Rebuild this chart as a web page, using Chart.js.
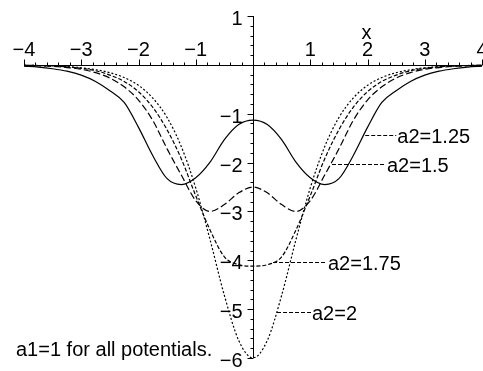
<!DOCTYPE html>
<html>
<head>
<meta charset="utf-8">
<script src="https://cdn.jsdelivr.net/npm/chart.js@4/dist/chart.umd.min.js"></script>
<style>
  html, body { margin: 0; padding: 0; background: #fff; }
  canvas { display: block; }
</style>
</head>
<body>
<canvas id="chart" width="483" height="371"></canvas>
<script>
// Sample positions along x
const xs = [-4, -3.75, -3.5, -3.25, -3, -2.75, -2.5, -2.25, -2, -1.75, -1.5, -1.25, -1, -0.75, -0.5, -0.25,
            0, 0.25, 0.5, 0.75, 1, 1.25, 1.5, 1.75, 2, 2.25, 2.5, 2.75, 3, 3.25, 3.5, 3.75, 4];

// Potential values for each a2
const v125 = [-0.025, -0.045, -0.08, -0.13, -0.21, -0.34, -0.53, -0.77, -1.28, -1.86, -2.33, -2.45, -2.31, -1.99, -1.53, -1.22,
              -1.13, -1.22, -1.53, -1.99, -2.31, -2.45, -2.33, -1.86, -1.28, -0.77, -0.53, -0.34, -0.21, -0.13, -0.08, -0.045, -0.025];
const v150 = [-0.01, -0.018, -0.03, -0.055, -0.09, -0.16, -0.27, -0.45, -0.72, -1.14, -1.72, -2.26, -2.78, -3.00, -2.86, -2.62,
              -2.50, -2.62, -2.86, -3.00, -2.78, -2.26, -1.72, -1.14, -0.72, -0.45, -0.27, -0.16, -0.09, -0.055, -0.03, -0.018, -0.01];
const v175 = [-0.008, -0.014, -0.024, -0.04, -0.07, -0.12, -0.21, -0.34, -0.55, -0.87, -1.33, -1.93, -2.68, -3.38, -3.93, -4.09,
              -4.12, -4.09, -3.93, -3.38, -2.68, -1.93, -1.33, -0.87, -0.55, -0.34, -0.21, -0.12, -0.07, -0.04, -0.024, -0.014, -0.008];
const v200 = [-0.008, -0.013, -0.022, -0.036, -0.06, -0.10, -0.16, -0.26, -0.42, -0.68, -1.08, -1.68, -2.52, -3.58, -4.72, -5.64,
              -6.00, -5.64, -4.72, -3.58, -2.52, -1.68, -1.08, -0.68, -0.42, -0.26, -0.16, -0.10, -0.06, -0.036, -0.022, -0.013, -0.008];

const seriesNames = ['a2=1.25', 'a2=1.5', 'a2=1.75', 'a2=2'];
const seriesValues = [v125, v150, v175, v200];
const seriesDash = [[], [7, 3], [4, 2], [2, 2]];

// Tick labels on the crossing axes
const xTickLabels = [-4, -3, -2, -1, 1, 2, 3, 4];
const yTickLabels = [1, -1, -2, -3, -4, -5, -6];
const minorStep = 0.2;
const xTitle = 'x';
const noteText = 'a1=1 for all potentials.';

// Callouts: point on the curve, and x where the text begins (data units)
const callouts = [
  { text: seriesNames[0], x: 1.96, y: -1.43, tx: 2.52 },
  { text: seriesNames[1], x: 1.38, y: -2.02, tx: 2.34 },
  { text: seriesNames[2], x: 0.35, y: -4.04, tx: 1.31 },
  { text: seriesNames[3], x: 0.42, y: -5.05, tx: 1.03 }
];

const FONT = '20px "Liberation Sans", Arial, Helvetica, sans-serif';
const fmt = v => (v < 0 ? '\u2212' + Math.abs(v) : String(v));

const crossAxes = {
  id: 'crossAxes',
  afterDatasetsDraw(chart) {
    const ctx = chart.ctx;
    const sx = chart.scales.x, sy = chart.scales.y;
    const X = v => sx.getPixelForValue(v);
    const Y = v => sy.getPixelForValue(v);
    const x0 = Math.round(X(0)) + 0.5;
    const y0 = Math.round(Y(0)) + 0.5;

    ctx.save();
    ctx.strokeStyle = '#000';
    ctx.fillStyle = '#000';
    ctx.lineWidth = 1;
    ctx.setLineDash([]);
    ctx.beginPath();
    ctx.moveTo(X(sx.min), y0); ctx.lineTo(X(sx.max), y0);
    ctx.moveTo(x0, Y(sy.max)); ctx.lineTo(x0, Y(sy.min));
    const nx = Math.round((sx.max - sx.min) / minorStep);
    for (let i = 0; i <= nx; i++) {
      const v = sx.min + i * minorStep;
      const px = Math.round(X(v)) + 0.5;
      const len = i % 5 === 0 ? 6 : 3;
      ctx.moveTo(px, y0); ctx.lineTo(px, y0 - len);
    }
    const ny = Math.round((sy.max - sy.min) / minorStep);
    for (let i = 0; i <= ny; i++) {
      const v = sy.min + i * minorStep;
      const py = Math.round(Y(v)) + 0.5;
      const len = i % 5 === 0 ? 6 : 3;
      ctx.moveTo(x0, py); ctx.lineTo(x0 - len, py);
    }
    ctx.stroke();

    ctx.font = FONT;
    ctx.textBaseline = 'alphabetic';
    ctx.textAlign = 'center';
    xTickLabels.forEach(v => ctx.fillText(fmt(v), X(v), y0 - 10));
    ctx.fillText(xTitle, X(2) - 1, y0 - 27);

    ctx.textAlign = 'right';
    yTickLabels.forEach(v => ctx.fillText(fmt(v), x0 - 11, Y(v) + 9));

    // callouts
    ctx.textAlign = 'left';
    callouts.forEach(c => {
      const py = Math.round(Y(c.y)) + 0.5;
      ctx.setLineDash([4, 2]);
      ctx.beginPath();
      ctx.moveTo(X(c.x), py);
      ctx.lineTo(X(c.tx) - 1, py);
      ctx.stroke();
      ctx.setLineDash([]);
      ctx.fillText(c.text, X(c.tx), py + 7);
    });

    ctx.fillText(noteText, chart.chartArea.left - 8, Y(-5.8) + 8);
    ctx.restore();
  }
};

new Chart(document.getElementById('chart'), {
  type: 'line',
  data: {
    datasets: seriesValues.map((vals, i) => ({
      label: seriesNames[i],
      data: xs.map((x, j) => ({ x: x, y: vals[j] })),
      borderColor: '#000',
      borderWidth: 1.2,
      borderDash: seriesDash[i],
      pointRadius: 0,
      fill: false,
      cubicInterpolationMode: 'monotone'
    }))
  },
  options: {
    responsive: false,
    animation: false,
    layout: { padding: { left: 24, right: 1, top: 16, bottom: 13 } },
    plugins: { legend: { display: false }, tooltip: { enabled: false } },
    scales: {
      x: { type: 'linear', min: -4, max: 4, display: false },
      y: { type: 'linear', min: -6, max: 1, display: false }
    }
  },
  plugins: [crossAxes]
});
</script>
</body>
</html>
